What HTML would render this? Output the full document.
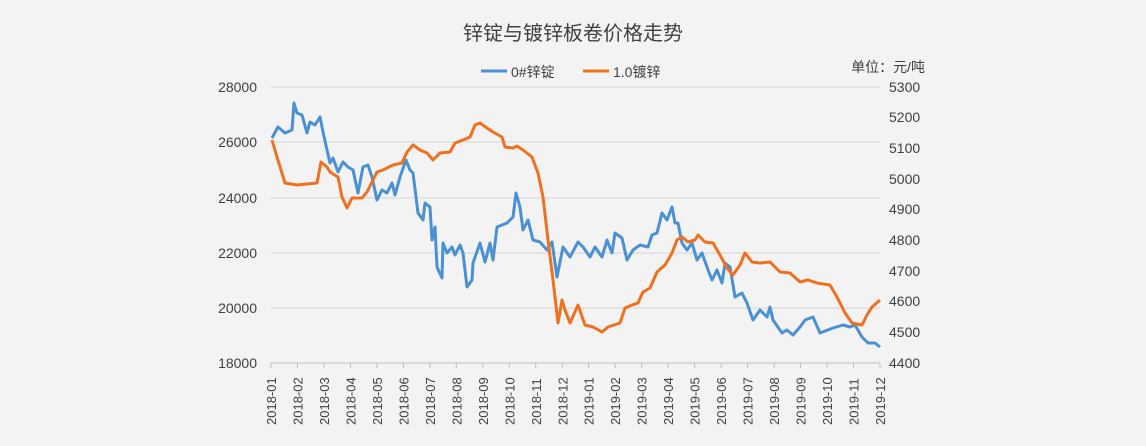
<!DOCTYPE html>
<html><head><meta charset="utf-8"><style>
body{margin:0;background:#f3f3f3;}
svg text{font-family:"Liberation Sans","Noto Sans CJK SC",sans-serif;fill:#404040;}
</style></head><body>
<svg width="1146" height="441" viewBox="0 0 1146 441" xmlns="http://www.w3.org/2000/svg">
<rect width="1146" height="441" fill="#f3f3f3"/>
<text x="573" y="40" font-size="20" text-anchor="middle">锌锭与镀锌板卷价格走势</text>
<line x1="481" y1="71" x2="507" y2="71" stroke="#4a90d4" stroke-width="3"/>
<text x="511" y="77" font-size="14">0#锌锭</text>
<line x1="583" y1="71" x2="609" y2="71" stroke="#f07020" stroke-width="3"/>
<text x="613" y="77" font-size="14">1.0镀锌</text>
<text x="925" y="72" font-size="14" text-anchor="end">单位：元/吨</text>
<g stroke="#d6d6d6" stroke-width="1">
<line x1="271" y1="87" x2="880" y2="87"/><line x1="271" y1="142" x2="880" y2="142"/>
<line x1="271" y1="198" x2="880" y2="198"/><line x1="271" y1="253" x2="880" y2="253"/>
<line x1="271" y1="308" x2="880" y2="308"/>
</g>
<g font-size="14" text-anchor="end">
<text x="257" y="92">28000</text><text x="257" y="147">26000</text><text x="257" y="203">24000</text>
<text x="257" y="258">22000</text><text x="257" y="313">20000</text><text x="257" y="368">18000</text>
</g>
<g font-size="14">
<text x="889" y="92">5300</text><text x="889" y="122">5200</text><text x="889" y="153">5100</text>
<text x="889" y="184">5000</text><text x="889" y="214">4900</text><text x="889" y="245">4800</text>
<text x="889" y="276">4700</text><text x="889" y="306">4600</text><text x="889" y="337">4500</text>
<text x="889" y="368">4400</text>
</g>
<g stroke="#bfbfbf">
<line x1="271" y1="363" x2="880" y2="363"/>
<line x1="271" y1="363" x2="271" y2="368"/><line x1="297.5" y1="363" x2="297.5" y2="368"/><line x1="324" y1="363" x2="324" y2="368"/><line x1="350.4" y1="363" x2="350.4" y2="368"/><line x1="376.9" y1="363" x2="376.9" y2="368"/><line x1="403.4" y1="363" x2="403.4" y2="368"/><line x1="429.9" y1="363" x2="429.9" y2="368"/><line x1="456.3" y1="363" x2="456.3" y2="368"/><line x1="482.8" y1="363" x2="482.8" y2="368"/><line x1="509.3" y1="363" x2="509.3" y2="368"/><line x1="535.8" y1="363" x2="535.8" y2="368"/><line x1="562.3" y1="363" x2="562.3" y2="368"/><line x1="588.7" y1="363" x2="588.7" y2="368"/><line x1="615.2" y1="363" x2="615.2" y2="368"/><line x1="641.7" y1="363" x2="641.7" y2="368"/><line x1="668.2" y1="363" x2="668.2" y2="368"/><line x1="694.7" y1="363" x2="694.7" y2="368"/><line x1="721.1" y1="363" x2="721.1" y2="368"/><line x1="747.6" y1="363" x2="747.6" y2="368"/><line x1="774.1" y1="363" x2="774.1" y2="368"/><line x1="800.6" y1="363" x2="800.6" y2="368"/><line x1="827" y1="363" x2="827" y2="368"/><line x1="853.5" y1="363" x2="853.5" y2="368"/><line x1="880" y1="363" x2="880" y2="368"/>
</g>
<g font-size="13">
<text transform="translate(276,425) rotate(-90)">2018-01</text>
<text transform="translate(302.5,425) rotate(-90)">2018-02</text>
<text transform="translate(329,425) rotate(-90)">2018-03</text>
<text transform="translate(355.4,425) rotate(-90)">2018-04</text>
<text transform="translate(381.9,425) rotate(-90)">2018-05</text>
<text transform="translate(408.4,425) rotate(-90)">2018-06</text>
<text transform="translate(434.9,425) rotate(-90)">2018-07</text>
<text transform="translate(461.3,425) rotate(-90)">2018-08</text>
<text transform="translate(487.8,425) rotate(-90)">2018-09</text>
<text transform="translate(514.3,425) rotate(-90)">2018-10</text>
<text transform="translate(540.8,425) rotate(-90)">2018-11</text>
<text transform="translate(567.3,425) rotate(-90)">2018-12</text>
<text transform="translate(593.7,425) rotate(-90)">2019-01</text>
<text transform="translate(620.2,425) rotate(-90)">2019-02</text>
<text transform="translate(646.7,425) rotate(-90)">2019-03</text>
<text transform="translate(673.2,425) rotate(-90)">2019-04</text>
<text transform="translate(699.7,425) rotate(-90)">2019-05</text>
<text transform="translate(726.1,425) rotate(-90)">2019-06</text>
<text transform="translate(752.6,425) rotate(-90)">2019-07</text>
<text transform="translate(779.1,425) rotate(-90)">2019-08</text>
<text transform="translate(805.6,425) rotate(-90)">2019-09</text>
<text transform="translate(832,425) rotate(-90)">2019-10</text>
<text transform="translate(858.5,425) rotate(-90)">2019-11</text>
<text transform="translate(885,425) rotate(-90)">2019-12</text>
</g>
<polyline fill="none" stroke="#4a90d4" stroke-width="3" stroke-linejoin="round" points="272,138 278,127 285,133 292,130 294,103 297,113 302,115 307,133 310,122 315,125 320,117 323,132 327,150 330,163 333,158 338,172 343,162 348,167 353,170 358,193 363,167 368,165 372,177 377,200 382,190 387,193 392,183 395,195 400,177 406,160 410,170 413,173 418,213 423,220 425,203 430,207 432,240 435,227 437,267 442,278 443,243 447,253 452,247 455,255 460,245 463,253 467,287 472,280 473,263 480,243 485,262 490,243 493,260 497,227 507,223 513,217 516,193 520,207 523,230 528,220 533,240 540,242 547,250 552,242 557,277 563,247 570,257 578,242 583,247 590,257 595,247 602,257 607,240 612,253 615,233 622,238 627,260 633,250 640,245 648,247 652,235 657,233 662,213 667,220 672,207 675,223 678,223 682,243 687,250 692,243 697,260 702,253 707,267 712,280 717,270 722,283 725,263 730,267 735,297 742,293 747,303 753,320 760,310 767,317 770,307 773,320 782,333 787,330 793,335 800,327 805,320 813,317 820,333 833,328 843,325 850,327 855,325 862,337 868,343 875,343 880,347"/>
<polyline fill="none" stroke="#f07020" stroke-width="3" stroke-linejoin="round" points="272,140 277,157 285,183 297,185 317,183 321,162 327,167 330,172 338,177 342,197 347,208 352,198 362,198 367,192 373,180 377,172 383,170 393,165 402,163 407,152 413,145 420,150 427,153 433,160 440,153 450,152 455,143 463,140 470,137 475,125 480,123 487,128 493,132 502,137 505,147 513,148 517,146 523,150 532,157 538,173 543,197 548,240 553,280 558,323 562,300 565,310 570,323 578,305 585,325 593,327 602,332 608,327 620,323 625,308 632,305 638,303 643,292 650,288 657,272 665,265 672,253 677,240 682,237 688,242 695,240 698,235 705,242 713,243 720,255 727,268 733,275 740,265 745,253 752,262 760,263 770,262 780,272 790,273 800,282 808,280 817,283 830,285 837,297 845,313 852,323 862,325 867,315 872,307 880,300"/>
</svg>
</body></html>
